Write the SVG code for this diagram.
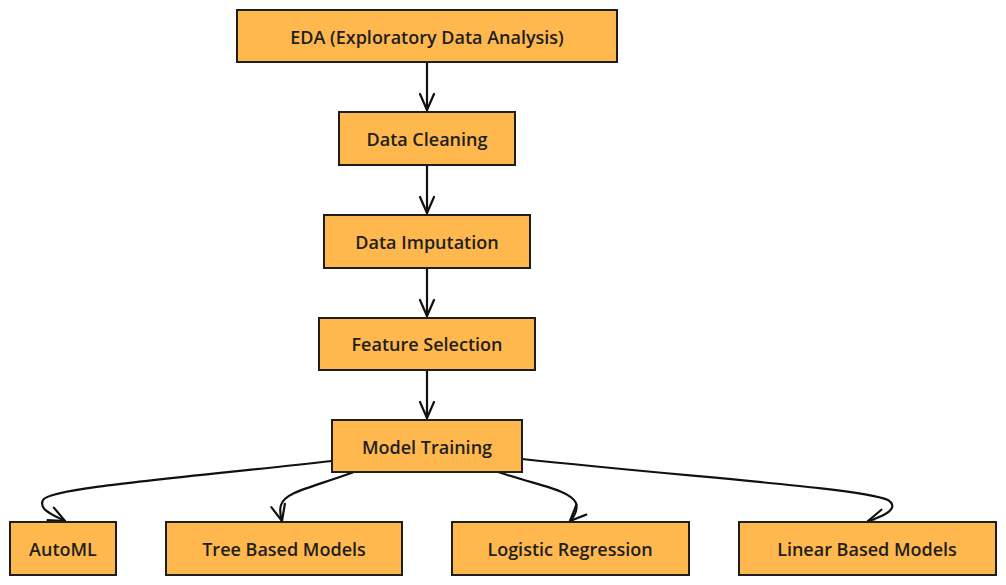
<svg xmlns="http://www.w3.org/2000/svg" width="1006" height="585" viewBox="0 0 1006 585">
<defs>
<style>
.box{fill:#FFB84D;stroke:#1e1e1e;stroke-width:2}
.lbl{font-family:"Open Sans",Lato,sans-serif;font-size:18px;font-weight:600;fill:#1e1e1e;text-anchor:middle;dominant-baseline:central}
.edge{fill:none;stroke:#111;stroke-width:2.2;stroke-linecap:round}
</style>
<marker id="arr" viewBox="0 0 20 20" refX="18" refY="10" markerWidth="20" markerHeight="20" markerUnits="userSpaceOnUse" orient="auto">
<path d="M2,3 L18,10 L2,17" fill="none" stroke="#111" stroke-width="2.2" stroke-linecap="round" stroke-linejoin="round"/>
</marker>
</defs>
<rect width="1006" height="585" fill="#ffffff"/>
<g id="connectors">
<path class="edge" d="M427,62 L427,110" marker-end="url(#arr)"/>
<path class="edge" d="M427,165 L427,213" marker-end="url(#arr)"/>
<path class="edge" d="M427,268 L427,316" marker-end="url(#arr)"/>
<path class="edge" d="M427,370 L427,418" marker-end="url(#arr)"/>
<path class="edge" d="M332,461 C180,478 50,488 43,500 C38,510 55,516 65,521" marker-end="url(#arr)"/>
<path class="edge" d="M354,472 C310,488 285,492 281,505 C279,512 281,517 282,521" marker-end="url(#arr)"/>
<path class="edge" d="M498,472 C540,486 570,490 576,503 C578,510 574,517 570,521" marker-end="url(#arr)"/>
<path class="edge" d="M522,459 C700,478 860,488 888,500 C900,508 885,516 868,521" marker-end="url(#arr)"/>
</g>
<g id="n-eda"><rect class="box" x="237" y="10" width="380" height="52"/><text class="lbl" x="427" y="37">EDA (Exploratory Data Analysis)</text></g>
<g id="n-cleaning"><rect class="box" x="339" y="112" width="176" height="53"/><text class="lbl" x="427" y="139">Data Cleaning</text></g>
<g id="n-imputation"><rect class="box" x="324" y="215" width="206" height="53"/><text class="lbl" x="427" y="242">Data Imputation</text></g>
<g id="n-feature"><rect class="box" x="319" y="318" width="216" height="52"/><text class="lbl" x="427" y="344">Feature Selection</text></g>
<g id="n-model"><rect class="box" x="332" y="420" width="190" height="52"/><text class="lbl" x="427" y="447">Model Training</text></g>
<g id="n-automl"><rect class="box" x="10" y="522" width="106" height="53"/><text class="lbl" x="63" y="549">AutoML</text></g>
<g id="n-tree"><rect class="box" x="166" y="522" width="236" height="53"/><text class="lbl" x="284" y="549">Tree Based Models</text></g>
<g id="n-logistic"><rect class="box" x="452" y="522" width="237" height="53"/><text class="lbl" x="570" y="549">Logistic Regression</text></g>
<g id="n-linear"><rect class="box" x="739" y="522" width="257" height="53"/><text class="lbl" x="867" y="549">Linear Based Models</text></g>
</svg>
